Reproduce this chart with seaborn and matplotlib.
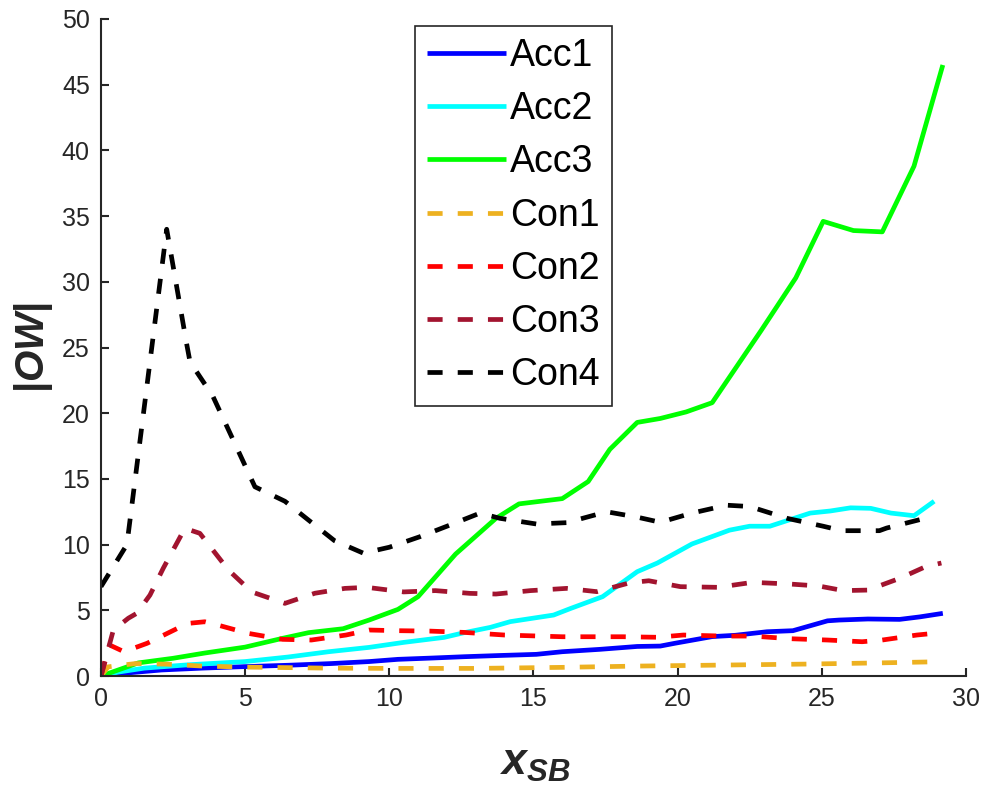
import numpy as np
import pandas as pd
import matplotlib
matplotlib.use("Agg")
import matplotlib.pyplot as plt
import seaborn as sns

# ---- data ----
acc1_x = [0, 1.0, 2.1, 3.5, 4.9, 6.5, 8.0, 9.3, 10.3, 11.5, 12.6, 13.8, 15.1, 16.0, 17.3, 18.6, 19.4, 19.9, 21.2, 22.0, 23.1, 24.0, 25.2, 25.6, 26.6, 27.7, 28.4, 29.2]
acc1_y = [0, 0.25, 0.46, 0.6, 0.71, 0.82, 0.95, 1.1, 1.27, 1.37, 1.47, 1.56, 1.65, 1.85, 2.03, 2.25, 2.28, 2.49, 3.0, 3.1, 3.37, 3.45, 4.2, 4.26, 4.34, 4.31, 4.5, 4.77]

acc2_x = [0, 0.6, 1.5, 3.0, 5.0, 6.5, 7.9, 9.3, 10.5, 11.9, 12.6, 13.5, 14.2, 15.7, 16.3, 17.4, 18.6, 19.3, 20.5, 21.8, 22.5, 23.2, 24.6, 25.3, 26.0, 26.7, 27.4, 28.2, 28.9]
acc2_y = [0, 0.3, 0.6, 0.85, 1.1, 1.45, 1.85, 2.18, 2.56, 2.94, 3.3, 3.7, 4.14, 4.64, 5.15, 6.04, 7.94, 8.6, 10.05, 11.1, 11.4, 11.4, 12.4, 12.56, 12.8, 12.76, 12.4, 12.2, 13.3]

acc3_x = [0, 1.3, 2.5, 3.6, 5.0, 6.3, 7.2, 8.4, 9.3, 10.3, 11.0, 12.3, 13.7, 14.5, 16.0, 16.9, 17.65, 18.6, 19.4, 20.3, 21.2, 22.9, 24.1, 25.05, 26.1, 27.1, 28.2, 29.2]
acc3_y = [0, 1.0, 1.35, 1.75, 2.2, 2.87, 3.3, 3.6, 4.26, 5.07, 6.04, 9.28, 12.0, 13.1, 13.5, 14.8, 17.25, 19.3, 19.6, 20.1, 20.8, 26.3, 30.3, 34.6, 33.9, 33.8, 38.8, 46.5]

con1_x = [0, 0.25, 1.2, 2.3, 3.5, 5.0, 7.9, 10, 13, 16, 18.7, 21, 24.5, 27, 29.15]
con1_y = [0, 0.7, 0.95, 0.9, 0.76, 0.68, 0.6, 0.58, 0.58, 0.66, 0.76, 0.82, 0.91, 1.0, 1.09]

con2_x = [0, 0.3, 0.8, 1.6, 3.0, 3.6, 4.05, 5.1, 6.3, 7.3, 8.5, 9.3, 10.3, 11.4, 12.6, 14.0, 16.0, 18.1, 19.3, 20.2, 21.6, 22.6, 23.9, 25.2, 26.4, 27.1, 28.3, 28.9]
con2_y = [0, 2.36, 1.85, 2.49, 4.0, 4.13, 3.88, 3.25, 2.79, 2.74, 3.12, 3.5, 3.45, 3.42, 3.32, 3.12, 2.99, 2.99, 2.95, 3.12, 3.04, 3.04, 2.84, 2.74, 2.61, 2.74, 3.12, 3.25]

con3_x = [0, 0.43, 0.95, 1.24, 1.7, 2.16, 2.91, 3.43, 4.42, 5.23, 6.38, 7.42, 8.46, 9.22, 10.5, 11.6, 12.8, 13.7, 14.9, 16.15, 17.2, 18.35, 19.0, 20.1, 21.4, 22.6, 23.9, 24.9, 25.75, 26.6, 27.7, 28.6, 29.15]
con3_y = [0, 3.5, 4.4, 4.77, 6.16, 8.2, 11.24, 10.86, 8.07, 6.4, 5.53, 6.3, 6.67, 6.75, 6.4, 6.5, 6.29, 6.24, 6.5, 6.67, 6.42, 7.1, 7.25, 6.8, 6.75, 7.13, 7.0, 6.85, 6.5, 6.54, 7.43, 8.32, 8.6]

con4_x = [0, 0.9, 2.28, 2.97, 3.09, 3.88, 5.34, 6.38, 7.18, 8.1, 9.1, 10.0, 11.06, 12.0, 13.15, 13.84, 15.1, 16.15, 17.54, 18.58, 19.4, 20.5, 21.7, 22.5, 23.8, 25.05, 25.7, 27.0, 27.25, 28.4]
con4_y = [6.8, 10.0, 34.0, 25.3, 23.9, 21.3, 14.4, 13.3, 11.9, 10.3, 9.35, 9.8, 10.6, 11.4, 12.4, 12.0, 11.57, 11.67, 12.5, 12.1, 11.7, 12.4, 13.0, 12.9, 12.0, 11.4, 11.06, 11.06, 11.26, 11.9]

series_names = ["Acc1", "Acc2", "Acc3", "Con1", "Con2", "Con3", "Con4"]
series_x = [acc1_x, acc2_x, acc3_x, con1_x, con2_x, con3_x, con4_x]
series_y = [acc1_y, acc2_y, acc3_y, con1_y, con2_y, con3_y, con4_y]
colors = ["#0000FF", "#00FFFF", "#00FF00", "#EDB120", "#FF0000", "#A2142F", "#000000"]
dashed = [False, False, False, True, True, True, True]

x_ticks = [0, 5, 10, 15, 20, 25, 30]
y_ticks = [0, 5, 10, 15, 20, 25, 30, 35, 40, 45, 50]

# ---- style ----
sns.set_theme(style="white")
plt.rcParams["font.family"] = ["Liberation Sans", "DejaVu Sans"]
plt.rcParams["mathtext.fontset"] = "custom"
plt.rcParams["mathtext.it"] = "Liberation Sans:italic:bold"
plt.rcParams["mathtext.rm"] = "Liberation Sans:bold"
plt.rcParams["mathtext.bf"] = "Liberation Sans:bold"

fig = plt.figure(figsize=(9.84, 7.88), dpi=100)
ax = fig.add_axes([0.1026, 0.1421, 0.879, 0.8338])

for name, xs, ys, c, d in zip(series_names, series_x, series_y, colors, dashed):
    df = pd.DataFrame({"x": xs, "y": ys})
    sns.lineplot(data=df, x="x", y="y", ax=ax, color=c, linewidth=3.4,
                 label=name, estimator=None, sort=False)
    line = ax.get_lines()[-1]
    if d:
        line.set_linestyle((0, (3.2, 3.2)))
    line.set_solid_capstyle("butt")
    line.set_dash_capstyle("butt")

ax.set_xlim(0, 30)
ax.set_ylim(0, 50)
ax.set_xticks(x_ticks)
ax.set_yticks(y_ticks)
ax.set_xticklabels([str(t) for t in x_ticks])
ax.set_yticklabels([str(t) for t in y_ticks])

dark = "#262626"
for s in ["top", "right"]:
    ax.spines[s].set_visible(False)
for s in ["left", "bottom"]:
    ax.spines[s].set_color(dark)
    ax.spines[s].set_linewidth(1.5)
ax.tick_params(axis="both", direction="in", length=6, width=1.5, colors=dark,
               labelsize=18, pad=8, left=True, bottom=True)

ax.set_xlabel(r"$x_{SB}$", fontsize=32, color=dark)
ax.set_ylabel(r"$|OW|$", fontsize=29, color=dark)
ax.xaxis.set_label_coords(0.502, -0.102)
ax.yaxis.set_label_coords(-0.053, 0.5)

leg = ax.legend(loc="upper left", bbox_to_anchor=(0.363, 0.99), borderaxespad=0,
                fontsize=27, frameon=True, fancybox=False, framealpha=1,
                edgecolor=dark, handlelength=2.1, handletextpad=0.1,
                labelspacing=0.46, borderpad=0.33)
leg.get_frame().set_linewidth(1.2)
for t in leg.get_texts():
    t.set_color("black")

fig.savefig("out.png", dpi=100, facecolor="white")
